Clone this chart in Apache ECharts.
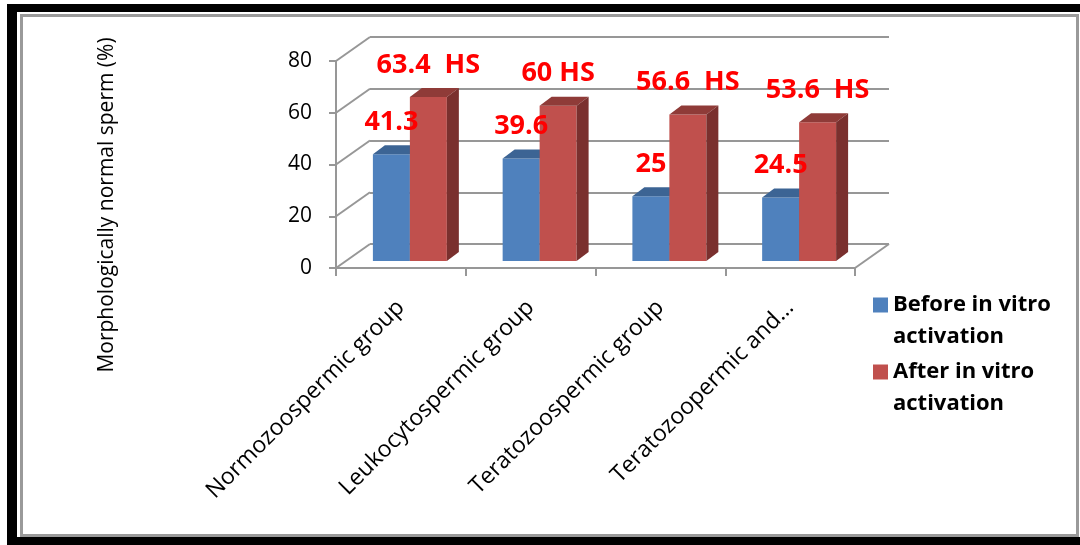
<!DOCTYPE html>
<html>
<head>
<meta charset="utf-8">
<script src="https://cdn.jsdelivr.net/npm/echarts@6/dist/echarts.min.js"></script>
<style>
html,body{margin:0;padding:0;background:#fff;}
#main{width:1080px;height:545px;}
</style>
</head>
<body>
<div id="main"></div>
<script>
// data
const categories = ['Normozoospermic group', 'Leukocytospermic group', 'Teratozoospermic group', 'Teratozoopermic and…'];
const beforeVals = [41.3, 39.6, 25, 24.5];
const afterVals = [63.4, 60, 56.6, 53.6];
const afterTags = ['  HS', ' HS', '  HS', '  HS'];
const seriesNames = ['Before in vitro\nactivation', 'After in vitro\nactivation'];
const yTicks = [0, 20, 40, 60, 80];

const gridColor = '#979797';
const colors = {
  before: { front: '#4F81BD', top: '#3C6494', side: '#385D8A' },
  after: { front: '#C0504D', top: '#8F3B38', side: '#7A302E' }
};

let myChart = echarts.init(document.getElementById('main'));

// 3d looking column, drawn with the bar plane axes
function bar3d(c, idx, tags) {
  return function (params, api) {
    let cat = api.value(0), v = api.value(1);
    let base = api.coord([cat, 0]);
    let tip = api.coord([cat, v]);
    let w = api.size([1, 0])[0] * 0.285;
    let x0 = base[0] + (idx === 0 ? -w : 0);
    let x1 = x0 + w;
    let yb = base[1], yt = tip[1];
    let dx = 12, dy = -9;
    let z = idx + 1;
    return {
      type: 'group',
      children: [
        { type: 'rect', z2: z, shape: { x: x0, y: yt, width: w, height: yb - yt }, style: { fill: c.front } },
        { type: 'polygon', z2: z, shape: { points: [[x0, yt], [x0 + dx, yt + dy], [x1 + dx, yt + dy], [x1, yt]] }, style: { fill: c.top } },
        { type: 'polygon', z2: z, shape: { points: [[x1, yt], [x1 + dx, yt + dy], [x1 + dx, yb + dy], [x1, yb]] }, style: { fill: c.side } },
        {
          type: 'text', z2: 100,
          style: {
            text: v + (tags ? tags[params.dataIndex] : ''),
            x: (x0 + x1) / 2, y: yt - 32,
            align: 'center', verticalAlign: 'middle',
            font: 'bold 27px "Open Sans"', fill: '#FF0000'
          }
        }
      ]
    };
  };
}

let legendText = { fontFamily: 'Open Sans', fontWeight: 'bold', fontSize: 22, color: '#000', lineHeight: 32 };

let option = {
  animation: false,
  textStyle: { fontFamily: 'Open Sans' },
  graphic: [
    { type: 'rect', shape: { x: 7, y: 4, width: 1073, height: 8 }, style: { fill: '#000' } },
    { type: 'rect', shape: { x: 7, y: 4, width: 10, height: 541 }, style: { fill: '#000' } },
    { type: 'rect', shape: { x: 7, y: 537, width: 1073, height: 8 }, style: { fill: '#000' } },
    { type: 'rect', shape: { x: 21.5, y: 15.5, width: 1056, height: 520 }, style: { fill: 'none', stroke: '#9a9a9a', lineWidth: 3 } },
    {
      type: 'text', x: 107, y: 205, rotation: Math.PI / 2,
      style: { text: 'Morphologically normal sperm (%)', x: 0, y: 0, align: 'center', verticalAlign: 'middle', font: '21px "Open Sans"', fill: '#000' }
    }
  ],
  legend: [
    {
      data: [seriesNames[0]], orient: 'vertical', left: 873, top: 257, padding: 0,
      itemWidth: 15, itemHeight: 15, icon: 'rect',
      formatter: name => '\n' + name,
      textStyle: legendText
    },
    {
      data: [seriesNames[1]], orient: 'vertical', left: 873, top: 324, padding: 0,
      itemWidth: 15, itemHeight: 15, icon: 'rect',
      formatter: name => '\n' + name,
      textStyle: legendText
    }
  ],
  grid: [
    { left: 336, top: 61, width: 519, height: 207 },   // front
    { left: 370, top: 37, width: 519, height: 207 },   // back wall
    { left: 345, top: 54, width: 519, height: 207 }    // bar plane
  ],
  xAxis: [
    {
      type: 'category', gridIndex: 0, data: categories,
      axisLine: { show: true, lineStyle: { color: gridColor, width: 2 } },
      axisTick: { show: true, length: 8, lineStyle: { color: gridColor, width: 2 } },
      axisLabel: { rotate: 45, interval: 0, margin: 36, fontSize: 23, color: '#000' }
    },
    { type: 'category', gridIndex: 1, data: categories, show: false },
    { type: 'category', gridIndex: 2, data: categories, show: false }
  ],
  yAxis: [
    {
      type: 'value', gridIndex: 0, min: 0, max: 80, interval: 20,
      axisLine: { show: true, lineStyle: { color: gridColor, width: 2 } },
      axisTick: { show: true, length: 7, lineStyle: { color: gridColor, width: 2 } },
      axisLabel: { margin: 24, fontSize: 21, color: '#000' },
      splitLine: { show: false }
    },
    {
      type: 'value', gridIndex: 1, min: 0, max: 80, interval: 20,
      axisLine: { show: false }, axisTick: { show: false }, axisLabel: { show: false },
      splitLine: { show: true, lineStyle: { color: gridColor, width: 2 } }
    },
    {
      type: 'value', gridIndex: 2, min: 0, max: 80, interval: 20, show: false,
      splitLine: { show: false }
    }
  ],
  series: [
    {
      // side wall / floor diagonals
      type: 'custom', xAxisIndex: 0, yAxisIndex: 0, silent: true,
      data: yTicks.map(v => [0, v]),
      renderItem: function (params, api) {
        let cs = params.coordSys;
        let y = api.coord([0, api.value(1)])[1];
        let st = { stroke: gridColor, lineWidth: 2 };
        let children = [{ type: 'line', shape: { x1: cs.x, y1: y, x2: cs.x + 34, y2: y - 24 }, style: st }];
        if (api.value(1) === 0) {
          children.push({ type: 'line', shape: { x1: cs.x + cs.width, y1: y, x2: cs.x + cs.width + 34, y2: y - 24 }, style: st });
        }
        return { type: 'group', children: children };
      }
    },
    {
      name: seriesNames[0], type: 'custom', xAxisIndex: 2, yAxisIndex: 2,
      itemStyle: { color: colors.before.front },
      data: beforeVals.map((v, i) => [i, v]),
      renderItem: bar3d(colors.before, 0, null)
    },
    {
      name: seriesNames[1], type: 'custom', xAxisIndex: 2, yAxisIndex: 2,
      itemStyle: { color: colors.after.front },
      data: afterVals.map((v, i) => [i, v]),
      renderItem: bar3d(colors.after, 1, afterTags)
    }
  ]
};

myChart.setOption(option);
</script>
</body>
</html>
